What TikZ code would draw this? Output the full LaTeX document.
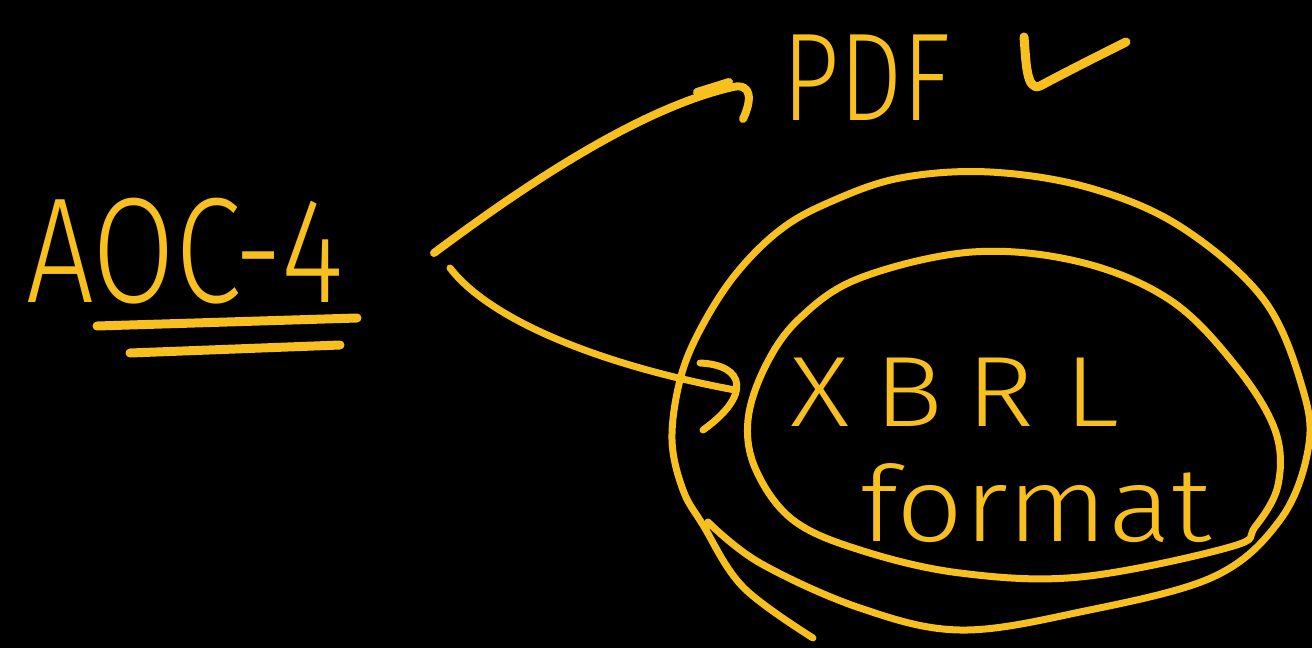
\documentclass[tikz,border=0pt]{standalone}
\usepackage{graphicx}
\usepackage{fontspec}
\newfontfamily\hand{Fira Sans}[UprightFont=* Light]
\definecolor{ink}{RGB}{248,192,30}
\begin{document}
\begin{tikzpicture}[x=1pt,y=-1pt,line cap=round,line join=round,
  pen/.style={draw=ink,line width=#1},pen/.default=8pt,
  txt/.style={text=ink,inner sep=0pt,anchor=base west}]
\fill[black] (0,0) rectangle (1312,648);
\useasboundingbox (0,0) rectangle (1312,648);

% texts
\node[txt,font=\hand\fontsize{150}{150}\selectfont] (aoc) at (26,302) {\scalebox{0.8}[1]{AOC-4}};
\node[txt,font=\hand\fontsize{125}{125}\selectfont] (pdf) at (782,120) {\scalebox{0.8}[1]{PDF}};
\node[txt,font=\hand\fontsize{100}{100}\selectfont] (xbrl) at (790,426) {\scalebox{1.15}[1]{X\kern22pt B\kern20pt R\kern26pt L}};
\node[txt,font=\hand\fontsize{105}{105}\selectfont] (fmt) at (860,541) {\scalebox{1.12}[1]{format}};

% underlines of AOC-4
\coordinate (u1a) at (97,326); \coordinate (u1b) at (357,318);
\coordinate (u2a) at (130,353); \coordinate (u2b) at (340,345);
\draw[pen=9pt] (u1a) -- (u1b);
\draw[pen=9pt] (u2a) -- (u2b);

% check mark after PDF
\coordinate (c1) at (1024,37); \coordinate (c2) at (1040,86); \coordinate (c3) at (1126,42);
\draw[pen=9pt] (c1) .. controls (1026,60) and (1026,92) .. (c2) .. controls (1070,70) and (1100,55) .. (c3);

% arrow to PDF
\coordinate (a1s) at (434,253); \coordinate (a1m) at (733,87); \coordinate (a1e) at (743,119);
\coordinate (h1a) at (697,92); \coordinate (h1b) at (729,82);
\draw[pen] (a1s) .. controls (525,185) and (640,108) .. (a1m)
  .. controls (752,83) and (752,100) .. (a1e);
\draw[pen] (h1a) -- (h1b);

% arrow to XBRL
\coordinate (a2s) at (450,268); \coordinate (a2e) at (735,390);
\coordinate (h2a) at (700,363); \coordinate (h2b) at (703,430);
\draw[pen=7pt] (a2s) .. controls (490,320) and (600,365) .. (a2e);
\draw[pen=7pt] (h2a) .. controls (745,365) and (752,395) .. (h2b);

% inner loop
\draw[pen=7pt] plot[smooth cycle,tension=0.6] coordinates {
 (1230,547) (1080,577) (960,573) (860,550) (793,520) (756,470) (748,420)
 (766,365) (800,318) (860,278) (972,252) (1080,262) (1170,300) (1235,365)
 (1275,430) (1278,485) (1255,527)};

% outer loop with tails
\draw[pen=7pt] plot[smooth,tension=0.6] coordinates {
 (708,522) (760,563) (860,608) (960,630) (1080,612) (1213,577) (1280,520)
 (1308,450) (1303,390) (1264,300) (1181,227) (1090,188) (990,172) (900,178)
 (830,202) (780,230) (735,275) (700,330) (680,380) (672,440) (683,490)
 (703,525) (743,587) (813,638)};
\end{tikzpicture}
\end{document}
